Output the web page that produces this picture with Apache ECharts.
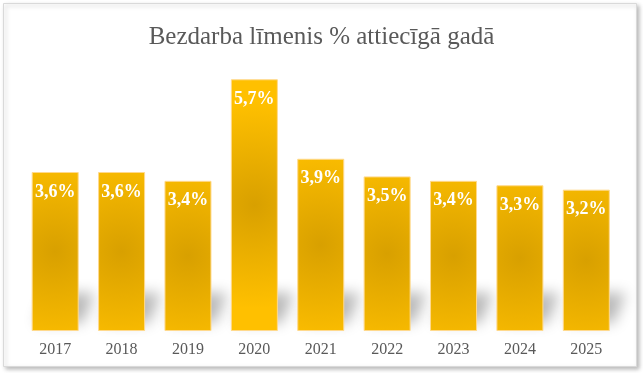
<!DOCTYPE html>
<html>
<head>
<meta charset="utf-8">
<script src="https://cdn.jsdelivr.net/npm/echarts@6/dist/echarts.min.js"></script>
<style>
html,body{margin:0;padding:0;background:#fff;}
#c{width:643px;height:373px;}
</style>
</head>
<body>
<div id="c"></div>
<script>
const titleText = 'Bezdarba līmenis % attiecīgā gadā';
const years = ['2017','2018','2019','2020','2021','2022','2023','2024','2025'];
const rates = [3.6, 3.6, 3.4, 5.7, 3.9, 3.5, 3.4, 3.3, 3.2];

const chart = echarts.init(document.getElementById('c'), null, {renderer:'canvas'});
const serif = '"Liberation Serif","Times New Roman",serif';

const barFill = {
  type: 'radial', x: 0.5, y: 0.5, r: 2.2,
  colorStops: [
    {offset: 0, color: '#d8a000'},
    {offset: 1, color: '#ffc000'}
  ]
};

chart.setOption({
  backgroundColor: '#ffffff',
  animation: false,
  title: {
    text: titleText,
    left: 'center',
    top: 20,
    textStyle: {fontFamily: serif, fontSize: 25, fontWeight: 'normal', color: '#595959'}
  },
  graphic: [{
    type: 'rect',
    z: -10,
    shape: {x: 3.5, y: 3.5, width: 633, height: 363},
    style: {fill: '#ffffff', stroke: '#d9d9d9', lineWidth: 1,
      shadowColor: 'rgba(0,0,0,0.25)', shadowBlur: 4, shadowOffsetX: 2, shadowOffsetY: 2}
  }],
  grid: {left: 22, right: 23.5, top: 66, bottom: 42, containLabel: false},
  xAxis: {
    type: 'category',
    data: years,
    axisLine: {show: false},
    axisTick: {show: false},
    axisLabel: {fontFamily: serif, fontSize: 16, color: '#595959', margin: 11}
  },
  yAxis: {
    type: 'value', min: 0, max: 6, show: false,
    splitLine: {show: false}
  },
  series: [
    {
      type: 'custom',
      z: 1,
      silent: true,
      data: rates,
      renderItem: function (params, api) {
        const base = api.coord([api.value(0), 0]);
        const w = api.size([1, 0])[0] * 0.71;
        const x0 = base[0] - w / 2, x1 = base[0] + w / 2, yb = base[1];
        const off = 2000;
        return {
          type: 'polygon',
          shape: {points: [
            [x0 + 4 - off, yb - 8], [x1 + 4 - off, yb - 8],
            [x1 + 16 - off, yb - 38], [x0 + 16 - off, yb - 38]
          ]},
          style: {fill: '#000', shadowColor: 'rgba(0,0,0,0.28)', shadowBlur: 14,
            shadowOffsetX: off, shadowOffsetY: 0}
        };
      }
    },
    {
      type: 'bar',
      z: 2,
      data: rates,
      barWidth: 47,
      itemStyle: {color: barFill, borderColor: '#ffd98c', borderWidth: 1},
      label: {
        show: true,
        position: 'insideTop',
        distance: 11,
        formatter: function (p) { return String(p.value).replace('.', ',') + '%'; },
        fontFamily: serif, fontSize: 18, fontWeight: 'bold', color: '#ffffff'
      }
    }
  ]
});
</script>
</body>
</html>
